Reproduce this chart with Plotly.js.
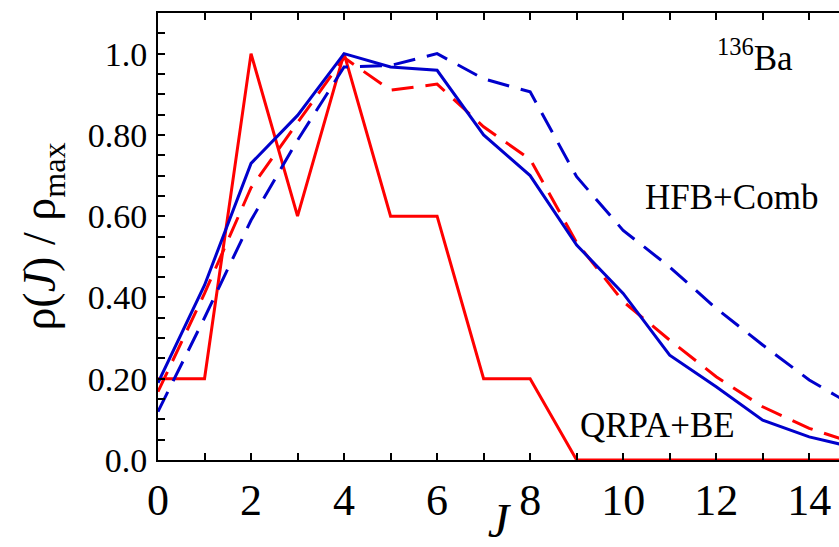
<!DOCTYPE html>
<html>
<head>
<meta charset="utf-8">
<script src="https://cdn.plot.ly/plotly-3.0.1.min.js"></script>
<style>html,body{margin:0;padding:0;background:#fff;overflow:hidden}#chart{width:839px;height:547px}</style>
</head>
<body>
<div id="chart"></div>
<script>
// J values
const J = [0,1,2,3,4,5,6,7,8,9,10,11,12,13,14,15];
// QRPA+BE (red solid)
const qrpaBE = [0.20,0.20,1.00,0.60,1.00,0.60,0.60,0.20,0.20,0.00,0.00,0.00,0.00,0.00,0.00,0.00];
// red dashed
const redDashed = [0.168,0.41,0.67,0.83,0.99,0.91,0.925,0.82,0.74,0.535,0.39,0.295,0.205,0.131,0.078,0.04];
// blue solid
const blueSolid = [0.19,0.43,0.73,0.848,1.00,0.967,0.959,0.80,0.70,0.529,0.41,0.258,0.180,0.098,0.057,0.03];
// HFB+Comb (blue dashed)
const hfbComb = [0.119,0.35,0.59,0.787,0.967,0.971,1.00,0.938,0.906,0.697,0.565,0.475,0.373,0.283,0.197,0.13];

const xTickVals = [0,2,4,6,8,10,12,14];
const xTickText = ['0','2','4','6','8','10','12','14'];
const yTickVals = [0,0.2,0.4,0.6,0.8,1.0];
const yTickText = ['0.0','0.20','0.40','0.60','0.80','1.0'];

const RED = '#ff0000', BLUE = '#0000cc';
const traces = [
  {x: J, y: qrpaBE, mode: 'lines', line: {color: RED, width: 3}, name: 'QRPA+BE'},
  {x: J, y: redDashed, mode: 'lines', line: {color: RED, width: 3, dash: '22px,12px'}, name: 'red dashed'},
  {x: J, y: hfbComb, mode: 'lines', line: {color: BLUE, width: 3, dash: '22px,12px'}, name: 'HFB+Comb'},
  {x: J, y: blueSolid, mode: 'lines', line: {color: BLUE, width: 3}, name: 'blue solid'}
];

const FONT = "Liberation Serif";
const layout = {
  width: 839, height: 547,
  margin: {l: 158, r: 0, t: 13, b: 87},
  paper_bgcolor: 'white', plot_bgcolor: 'rgba(0,0,0,0)',
  showlegend: false,
  font: {family: FONT, color: 'black'},
  xaxis: {
    range: [0, 14.64], tickmode: 'array', tickvals: xTickVals, ticktext: xTickText,
    ticks: 'inside', ticklen: 7, tickwidth: 1.5, tickcolor: 'rgb(0,0,0)',
    minor: {ticks: 'inside', ticklen: 7, tickwidth: 1.5, tickcolor: 'rgb(0,0,0)', dtick: 1},
    showline: true, linecolor: 'rgb(0,0,0)', linewidth: 2, mirror: 'ticks',
    showgrid: false, zeroline: false,
    tickfont: {size: 44},
    title: {text: '<i>J</i>', font: {size: 48}}
  },
  yaxis: {
    range: [0, 1.1], tickmode: 'array', tickvals: yTickVals, ticktext: yTickText,
    ticks: 'inside', ticklen: 7, tickwidth: 1.5, tickcolor: 'rgb(0,0,0)',
    minor: {ticks: 'inside', ticklen: 7, tickwidth: 1.5, tickcolor: 'rgb(0,0,0)', dtick: 0.05},
    showline: true, linecolor: 'rgb(0,0,0)', linewidth: 2,
    showgrid: false, zeroline: false,
    tickfont: {size: 34},
    ticklabelstandoff: 2,
    title: {text: 'ρ(<i>J</i>) / ρ<sub>max</sub>', font: {size: 46}}
  },
  annotations: [
    {x: 12.84, y: 0.995, text: '<sup>136</sup>Ba', showarrow: false, font: {size: 35}},
    {x: 12.32, y: 0.645, text: 'HFB+Comb', showarrow: false, font: {size: 35}},
    {x: 10.73, y: 0.086, text: 'QRPA+BE', showarrow: false, font: {size: 35}}
  ]
};
Plotly.newPlot('chart', traces, layout, {displayModeBar: false});
</script>
</body>
</html>
